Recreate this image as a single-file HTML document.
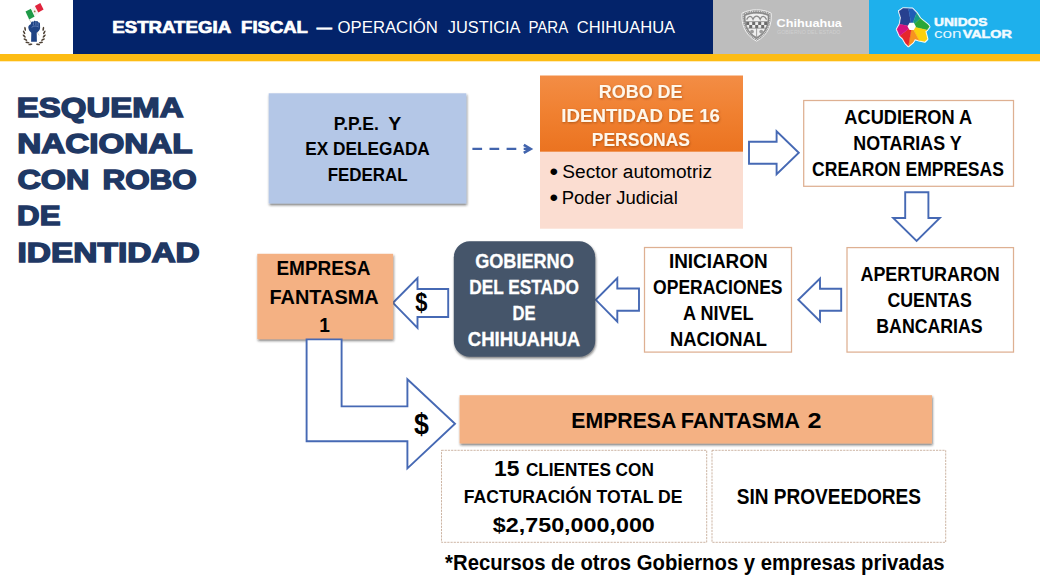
<!DOCTYPE html>
<html lang="es">
<head>
<meta charset="utf-8">
<title>Estrategia Fiscal — Operación Justicia para Chihuahua</title>
<style>
html,body{margin:0;padding:0;background:#fff;}
body{width:1040px;height:585px;overflow:hidden;position:relative;}
svg{display:block;position:absolute;left:0;top:0;}
text{font-family:"Liberation Sans",sans-serif;}
.b{font-weight:bold;}
.k{fill:#000;}
.w{fill:#fff;}
.hd{font-weight:bold;fill:#1f3864;stroke:#1f3864;stroke-width:1.5px;stroke-linejoin:miter;}
.arr{fill:#fff;stroke:#4669b4;stroke-width:1.9px;stroke-linejoin:miter;}
.ob{fill:#fff;stroke:#deb092;stroke-width:1.25px;}
.db{fill:#fff;stroke:#c4a893;stroke-width:0.85px;stroke-dasharray:2.2 1;}
</style>
</head>
<body>
<svg width="1040" height="585" viewBox="0 0 1040 585">
<defs>
  <filter id="sh" x="-10%" y="-10%" width="120%" height="130%">
    <feDropShadow dx="0.7" dy="1.7" stdDeviation="0.8" flood-color="#1c1a1e" flood-opacity="0.58"/>
  </filter>
  <filter id="tsh" x="-10%" y="-20%" width="120%" height="150%">
    <feDropShadow dx="0.5" dy="1" stdDeviation="0.9" flood-color="#7a3500" flood-opacity="0.55"/>
  </filter>
  <linearGradient id="og" x1="0" y1="0" x2="0" y2="1">
    <stop offset="0" stop-color="#f38d45"/>
    <stop offset="0.5" stop-color="#f08030"/>
    <stop offset="1" stop-color="#eb7320"/>
  </linearGradient>
</defs>

<!-- ===== HEADER ===== -->
<rect x="0" y="0" width="1040" height="585" fill="#fff"/>
<rect x="73" y="0" width="640" height="54" fill="#03236a"/>
<rect x="713" y="0" width="156" height="54" fill="#bdbdbd"/>
<rect x="869" y="0" width="171" height="54" fill="#1eb0ec"/>
<rect x="0" y="54" width="1040" height="7.3" fill="#fdbc14"/>

<g id="hdr-text">
<text id="t01" x="112.25" y="33.1" font-size="16.4" class="b w" stroke="#fff" stroke-width="0.7" textLength="118.90" lengthAdjust="spacingAndGlyphs">ESTRATEGIA</text>
<text id="t02" x="241.14" y="33.1" font-size="16.4" class="b w" stroke="#fff" stroke-width="0.7" textLength="66.78" lengthAdjust="spacingAndGlyphs">FISCAL</text>
<text id="t03" x="316.80" y="33.1" font-size="16" class="w" stroke="#fff" stroke-width="0.9" textLength="15.05" lengthAdjust="spacingAndGlyphs">—</text>
<text id="t04" x="337.63" y="33.1" font-size="16" class="w" textLength="100.25" lengthAdjust="spacingAndGlyphs">OPERACIÓN</text>
<text id="t05" x="447.75" y="33.1" font-size="16" class="w" textLength="72.80" lengthAdjust="spacingAndGlyphs">JUSTICIA</text>
<text id="t06" x="528.41" y="33.1" font-size="16" class="w" textLength="39.81" lengthAdjust="spacingAndGlyphs">PARA</text>
<text id="t07" x="576.89" y="33.1" font-size="16" class="w" textLength="98.21" lengthAdjust="spacingAndGlyphs">CHIHUAHUA</text>
</g>

<!-- LOGOS PLACEHOLDER -->
<g id="logo-left">
<path d="M29.3 19.6L39.2 35.5" stroke="#b9b4a8" stroke-width="0.6" fill="none"/>
<polygon points="25.5,11.6 31.0,8.8 34.7,16.5 29.2,19.4" fill="#1f9a48"/>
<polygon points="31.0,8.8 34.9,6.6 38.3,13.6 34.7,16.5" fill="#f4f4f0"/>
<polygon points="34.9,6.0 40.3,2.9 43.6,9.4 38.3,12.6" fill="#e0233c"/>
<circle cx="34.7" cy="11.4" r="0.9" fill="#9a7b4a"/>
<path d="M31.1 41.7 L31.3 32.8 C30 31.8 28.5 30 28.3 27.6 C28.1 25.8 29.4 24.6 30.7 24.2 L31.1 22.7 C31.5 21.3 33 21.1 33.4 22 C33.8 20.5 35.5 20.4 35.9 21.6 C36.5 20.7 37.9 21 38.1 22.4 C39.1 22 40.1 22.8 40 24.2 L40.1 28 C39.9 30 38.5 31.6 36.7 32.7 L36.9 41.7 Z" fill="#1f4384"/>
<path d="M31.6 27.4 C33.4 25.6 36.4 25.6 38.8 27 M33.4 22.4V25.4 M35.9 22V25.2 M38.1 22.8V25.8" stroke="#8aa3d6" stroke-width="0.55" fill="none"/>
<ellipse cx="25.1" cy="28.9" rx="2.1" ry="0.85" transform="rotate(-100 25.1 28.9)" fill="#4d4034"/>
<ellipse cx="24.1" cy="32.4" rx="2.1" ry="0.85" transform="rotate(-118 24.1 32.4)" fill="#4d4034"/>
<ellipse cx="24.2" cy="36.1" rx="2.1" ry="0.85" transform="rotate(-135 24.2 36.1)" fill="#4d4034"/>
<ellipse cx="25.4" cy="39.6" rx="2.1" ry="0.85" transform="rotate(-153 25.4 39.6)" fill="#4d4034"/>
<ellipse cx="27.5" cy="42.5" rx="2.1" ry="0.85" transform="rotate(-171 27.5 42.5)" fill="#4d4034"/>
<ellipse cx="30.4" cy="44.4" rx="2.1" ry="0.85" transform="rotate(-191 30.4 44.4)" fill="#4d4034"/>
<ellipse cx="43.3" cy="28.9" rx="2.1" ry="0.85" transform="rotate(100 43.3 28.9)" fill="#4d4034"/>
<ellipse cx="44.3" cy="32.4" rx="2.1" ry="0.85" transform="rotate(118 44.3 32.4)" fill="#4d4034"/>
<ellipse cx="44.2" cy="36.1" rx="2.1" ry="0.85" transform="rotate(135 44.2 36.1)" fill="#4d4034"/>
<ellipse cx="43.0" cy="39.6" rx="2.1" ry="0.85" transform="rotate(153 43.0 39.6)" fill="#4d4034"/>
<ellipse cx="40.9" cy="42.5" rx="2.1" ry="0.85" transform="rotate(171 40.9 42.5)" fill="#4d4034"/>
<ellipse cx="38.0" cy="44.4" rx="2.1" ry="0.85" transform="rotate(191 38.0 44.4)" fill="#4d4034"/>
</g>
<g id="logo-chih">
<path d="M742 13.2 C747 10.6 752 9.8 756.6 9.8 C761.2 9.8 766.2 10.6 771.2 13.2 C772 24 768.5 35 756.6 41.2 C744.7 35 741.2 24 742 13.2 Z" fill="#8c8c8c" stroke="#f2f2f2" stroke-width="1"/>
<path d="M743.3 14.2 C747.8 11.9 752.4 11.2 756.6 11.2 C760.8 11.2 765.4 11.9 769.9 14.2 C770.6 24 767.4 33.8 756.6 39.6 C745.8 33.8 742.6 24 743.3 14.2 Z" fill="none" stroke="#dcdcdc" stroke-width="1.3" stroke-dasharray="1 0.8"/>
<path d="M745.2 15.6 C749 13.8 752.8 13.2 756.6 13.2 C760.4 13.2 764.2 13.8 768 15.6 C768.6 24 765.8 32.4 756.6 37.4 C747.4 32.4 744.6 24 745.2 15.6 Z" fill="#efefef" stroke="#777" stroke-width="0.6"/>
<path d="M745.4 21.6 H767.8 M746.8 28.2 H766.4 M756.6 28.2V37.2" stroke="#7e7e7e" stroke-width="0.7" fill="none"/>
<path d="M746.6 19.6 C748.6 15.4 751.4 15.4 753 19.2 C754.6 15 758.6 15 760.2 19.2 C761.8 15.4 764.6 15.4 766.6 19.6" stroke="#8a8a8a" stroke-width="1.3" fill="none"/>
<rect x="746.2" y="21.9" width="3" height="3.1" fill="#6c6c6c"/>
<rect x="752.2" y="21.9" width="3" height="3.1" fill="#6c6c6c"/>
<rect x="758.2" y="21.9" width="3" height="3.1" fill="#6c6c6c"/>
<rect x="764.2" y="21.9" width="3" height="3.1" fill="#6c6c6c"/>
<rect x="749.2" y="25.0" width="3" height="3.1" fill="#6c6c6c"/>
<rect x="755.2" y="25.0" width="3" height="3.1" fill="#6c6c6c"/>
<rect x="761.2" y="25.0" width="3" height="3.1" fill="#6c6c6c"/>
<circle cx="752" cy="31.6" r="1.9" fill="#9c9c9c"/><circle cx="761.2" cy="31.6" r="1.9" fill="#9c9c9c"/>
<text x="776.6" y="26.9" font-size="11.6" class="b w" textLength="65.3" lengthAdjust="spacingAndGlyphs">Chihuahua</text>
<text x="777" y="33.6" font-size="4.6" fill="#cfcfcf" textLength="63.5" lengthAdjust="spacingAndGlyphs">GOBIERNO DEL ESTADO</text>
</g>
<g id="logo-unidos">
<polygon points="899.0,11.2 903.1,8.3 908.4,8.6 912.5,8.7 916.6,12.9 920.3,18.6 928.1,24.8 929.4,26.8 926.9,30.1 925.3,31.3 927.3,39.1 924.8,41.6 919.1,40.4 915.0,39.1 912.9,42.4 908.4,46.1 905.5,43.2 902.7,38.3 899.8,35.8 896.9,29.3 899.8,24.3 901.0,17.8" fill="#fff" stroke="#fff" stroke-width="2.2" stroke-linejoin="round"/>
<polygon points="911.7,26.4 899.8,24.3 901.0,17.8 899.0,11.2 903.1,8.3 908.4,8.6" fill="#27408f" stroke="#27408f" stroke-width="0.35" stroke-linejoin="round"/>
<polygon points="911.7,26.4 908.4,8.6 912.5,8.7 916.6,12.9" fill="#1f5db6" stroke="#1f5db6" stroke-width="0.35" stroke-linejoin="round"/>
<polygon points="911.7,26.4 916.6,12.9 920.3,18.6" fill="#179c84" stroke="#179c84" stroke-width="0.35" stroke-linejoin="round"/>
<polygon points="911.7,26.4 920.3,18.6 928.1,24.8 929.4,26.8 926.9,30.1" fill="#2aa738" stroke="#2aa738" stroke-width="0.35" stroke-linejoin="round"/>
<polygon points="911.7,26.4 926.9,30.1 925.3,31.3 927.3,39.1 924.8,41.6 919.1,40.4" fill="#fdd10c" stroke="#fdd10c" stroke-width="0.35" stroke-linejoin="round"/>
<polygon points="911.7,26.4 919.1,40.4 915.0,39.1 912.9,42.4 908.4,46.1" fill="#f7931e" stroke="#f7931e" stroke-width="0.35" stroke-linejoin="round"/>
<polygon points="911.7,26.4 908.4,46.1 905.5,43.2 902.7,38.3 899.8,35.8" fill="#e6262b" stroke="#e6262b" stroke-width="0.35" stroke-linejoin="round"/>
<polygon points="911.7,26.4 899.8,35.8 896.9,29.3 899.8,24.3" fill="#d5127d" stroke="#d5127d" stroke-width="0.35" stroke-linejoin="round"/>
<polygon points="915.9,26.4 913.8,30.0 909.6,30.0 907.5,26.4 909.6,22.8 913.8,22.8" fill="#fff"/>
<text x="934" y="25.6" font-size="11.4" class="b" fill="#f2fbff" stroke="#f2fbff" stroke-width="0.5" textLength="53.4" lengthAdjust="spacingAndGlyphs">UNIDOS</text>
<text x="934" y="37.5" font-size="12.4" fill="#e4f6ff" textLength="27.6" lengthAdjust="spacingAndGlyphs">con</text>
<text x="962.7" y="37.5" font-size="11.4" class="b" fill="#f2fbff" stroke="#f2fbff" stroke-width="0.5" textLength="49.2" lengthAdjust="spacingAndGlyphs">VALOR</text>
</g>

<!-- ===== LEFT HEADING ===== -->
<g id="heading">
<text id="t08" x="16.78" y="116.6" font-size="28.4" class="hd" textLength="166.71" lengthAdjust="spacingAndGlyphs">ESQUEMA</text>
<text id="t09" x="17.18" y="152.8" font-size="28.4" class="hd" textLength="175.37" lengthAdjust="spacingAndGlyphs">NACIONAL</text>
<text id="t10" x="17.53" y="189.1" font-size="28.4" class="hd" textLength="71.84" lengthAdjust="spacingAndGlyphs">CON</text>
<text id="t11" x="102.45" y="189.1" font-size="28.4" class="hd" textLength="94.31" lengthAdjust="spacingAndGlyphs">ROBO</text>
<text id="t12" x="17.11" y="225.4" font-size="28.4" class="hd" textLength="43.38" lengthAdjust="spacingAndGlyphs">DE</text>
<text id="t13" x="17.48" y="261.6" font-size="28.4" class="hd" textLength="182.28" lengthAdjust="spacingAndGlyphs">IDENTIDAD</text>
</g>

<!-- ===== ROW 1 ===== -->
<rect x="268.7" y="93.3" width="197.6" height="110.2" fill="#b4c7e7" filter="url(#sh)"/>
<text id="t14" x="333.74" y="129.8" font-size="18.0" class="b k" textLength="45.11" lengthAdjust="spacingAndGlyphs">P.P.E.</text>
<text id="t15" x="388.38" y="129.8" font-size="18.0" class="b k" textLength="13.04" lengthAdjust="spacingAndGlyphs">Y</text>
<text id="t16" x="305.19" y="155.4" font-size="18.0" class="b k" textLength="124.62" lengthAdjust="spacingAndGlyphs">EX DELEGADA</text>
<text id="t17" x="327.67" y="181.0" font-size="18.0" class="b k" textLength="79.93" lengthAdjust="spacingAndGlyphs">FEDERAL</text>

<!-- dashed arrow -->
<path d="M472.4 148.9H530" fill="none" stroke="#4264ad" stroke-width="2.3" stroke-dasharray="9.7 7.4"/>
<path d="M523.8 144.9L530.6 148.9L523.8 152.9" fill="none" stroke="#4264ad" stroke-width="2.7" stroke-linejoin="miter"/>

<!-- ROBO DE IDENTIDAD -->
<rect x="540" y="151.3" width="203" height="77.4" fill="#fbddd1"/>
<rect x="540" y="75.5" width="203" height="76.2" fill="url(#og)"/>
<g filter="url(#tsh)">
<text id="t18" x="598.72" y="98.2" font-size="18.3" class="b" fill="#fff7ea" textLength="83.85" lengthAdjust="spacingAndGlyphs">ROBO DE</text>
<text id="t19" x="561.34" y="122.3" font-size="18.3" class="b" fill="#fff7ea" textLength="158.62" lengthAdjust="spacingAndGlyphs">IDENTIDAD DE 16</text>
<text id="t20" x="591.72" y="146.3" font-size="18.3" class="b" fill="#fff7ea" textLength="98.24" lengthAdjust="spacingAndGlyphs">PERSONAS</text>
</g>
<text id="t21" x="549.43" y="179.7" font-size="23.8" class="k" textLength="8.61" lengthAdjust="spacingAndGlyphs">•</text>
<text id="t22" x="562.33" y="177.9" font-size="18.0" class="k" textLength="149.74" lengthAdjust="spacingAndGlyphs">Sector automotriz</text>
<text id="t23" x="549.43" y="205.6" font-size="23.8" class="k" textLength="8.61" lengthAdjust="spacingAndGlyphs">•</text>
<text id="t24" x="561.81" y="204.1" font-size="18.0" class="k" textLength="115.93" lengthAdjust="spacingAndGlyphs">Poder Judicial</text>

<!-- arrow right -->
<path class="arr" d="M749 141.7H776.6V131.2L798.8 152.7L776.6 174.2V163.7H749Z"/>

<!-- ACUDIERON -->
<rect class="ob" x="803.7" y="100.5" width="209.8" height="85.8"/>
<text id="t25" x="844.35" y="123.9" font-size="19.9" class="b k" textLength="127.81" lengthAdjust="spacingAndGlyphs">ACUDIERON A</text>
<text id="t26" x="853.28" y="150.0" font-size="19.9" class="b k" textLength="108.37" lengthAdjust="spacingAndGlyphs">NOTARIAS Y</text>
<text id="t27" x="812.09" y="175.8" font-size="19.9" class="b k" textLength="191.81" lengthAdjust="spacingAndGlyphs">CREARON EMPRESAS</text>

<!-- arrow down -->
<path class="arr" d="M905.2 192.3H928.4V218H939.8L916.6 241L893.2 218H905.2Z"/>

<!-- ===== ROW 2 ===== -->
<rect class="ob" x="847" y="247.6" width="166.5" height="104.5"/>
<text id="t28" x="860.45" y="280.9" font-size="19.9" class="b k" textLength="139.37" lengthAdjust="spacingAndGlyphs">APERTURARON</text>
<text id="t29" x="887.54" y="306.9" font-size="19.9" class="b k" textLength="84.32" lengthAdjust="spacingAndGlyphs">CUENTAS</text>
<text id="t30" x="876.28" y="332.5" font-size="19.9" class="b k" textLength="106.44" lengthAdjust="spacingAndGlyphs">BANCARIAS</text>

<path class="arr" d="M841.2 288.7H820V278.6L798.3 299.8L820 321.2V310.7H841.2Z"/>

<rect class="ob" x="644.5" y="247.5" width="147" height="104.6"/>
<text id="t31" x="668.92" y="267.5" font-size="19.9" class="b k" textLength="98.72" lengthAdjust="spacingAndGlyphs">INICIARON</text>
<text id="t32" x="653.09" y="294.3" font-size="19.9" class="b k" textLength="129.46" lengthAdjust="spacingAndGlyphs">OPERACIONES</text>
<text id="t33" x="683.05" y="319.8" font-size="19.9" class="b k" textLength="70.46" lengthAdjust="spacingAndGlyphs">A NIVEL</text>
<text id="t34" x="670.08" y="345.9" font-size="19.9" class="b k" textLength="96.78" lengthAdjust="spacingAndGlyphs">NACIONAL</text>

<path class="arr" d="M639 288.5H617.3V278L595.8 299.8L617.3 321.7V310.8H639Z"/>

<rect x="453.8" y="241.3" width="141.4" height="115.4" rx="16" ry="16" fill="#44546a" filter="url(#sh)"/>
<text id="t35" x="475.14" y="267.8" font-size="19.9" class="b w" stroke="#fff" stroke-width="0.3" textLength="98.63" lengthAdjust="spacingAndGlyphs">GOBIERNO</text>
<text id="t36" x="469.18" y="294.3" font-size="19.9" class="b w" stroke="#fff" stroke-width="0.3" textLength="109.68" lengthAdjust="spacingAndGlyphs">DEL ESTADO</text>
<text id="t37" x="512.49" y="320.2" font-size="19.9" class="b w" stroke="#fff" stroke-width="0.3" textLength="23.07" lengthAdjust="spacingAndGlyphs">DE</text>
<text id="t38" x="467.74" y="346.2" font-size="19.9" class="b w" stroke="#fff" stroke-width="0.3" textLength="112.51" lengthAdjust="spacingAndGlyphs">CHIHUAHUA</text>

<path class="arr" d="M448.2 289H417.5V278L393 302.8L417.5 327.8V317H448.2Z"/>
<text id="t39" x="415.15" y="310.8" font-size="26.6" class="b k" textLength="12.16" lengthAdjust="spacingAndGlyphs">$</text>

<rect x="257.3" y="253.8" width="135.8" height="85.4" fill="#f4b183" filter="url(#sh)"/>
<text id="t40" x="276.38" y="275.0" font-size="20.9" class="b k" textLength="93.98" lengthAdjust="spacingAndGlyphs">EMPRESA</text>
<text id="t41" x="269.57" y="303.8" font-size="20.9" class="b k" textLength="109.09" lengthAdjust="spacingAndGlyphs">FANTASMA</text>
<text id="t42" x="319.30" y="332.3" font-size="20.9" class="b k" textLength="10.68" lengthAdjust="spacingAndGlyphs">1</text>

<!-- bent arrow -->
<path class="arr" d="M306.6 339.4H341.6V406.4H407.4V379.3L455 423.8L407.4 468.4V441.3H306.6Z"/>
<text id="t43" x="414.04" y="433.7" font-size="29.1" class="b k" textLength="14.87" lengthAdjust="spacingAndGlyphs">$</text>

<!-- ===== ROW 3 ===== -->
<rect x="459.6" y="395.2" width="472.4" height="48.3" fill="#f4b183" filter="url(#sh)"/>
<text id="t44" x="571.32" y="427.6" font-size="22.4" class="b k" textLength="105.04" lengthAdjust="spacingAndGlyphs">EMPRESA</text>
<text id="t45" x="680.63" y="427.6" font-size="22.4" class="b k" textLength="119.43" lengthAdjust="spacingAndGlyphs">FANTASMA</text>
<text id="t46" x="807.59" y="427.6" font-size="22.4" class="b k" textLength="14.00" lengthAdjust="spacingAndGlyphs">2</text>

<rect class="db" x="441.5" y="450.3" width="265.2" height="92"/>
<text id="t47" x="494.13" y="475.7" font-size="21.4" class="b k" textLength="25.38" lengthAdjust="spacingAndGlyphs">15</text>
<text id="t48" x="525.89" y="475.7" font-size="17.6" class="b k" textLength="127.92" lengthAdjust="spacingAndGlyphs">CLIENTES CON</text>
<text id="t49" x="463.74" y="503.1" font-size="17.6" class="b k" textLength="218.67" lengthAdjust="spacingAndGlyphs">FACTURACIÓN TOTAL DE</text>
<text id="t50" x="492.85" y="531.6" font-size="20.9" class="b k" textLength="161.96" lengthAdjust="spacingAndGlyphs">$2,750,000,000</text>

<rect class="db" x="712" y="450.3" width="233.7" height="92"/>
<text id="t51" x="736.70" y="504.0" font-size="21.5" class="b k" textLength="184.26" lengthAdjust="spacingAndGlyphs">SIN PROVEEDORES</text>

<text id="t52" x="445.10" y="570.4" font-size="21.2" class="b k" textLength="499.45" lengthAdjust="spacingAndGlyphs">*Recursos de otros Gobiernos y empresas privadas</text>
</svg>
</body>
</html>
